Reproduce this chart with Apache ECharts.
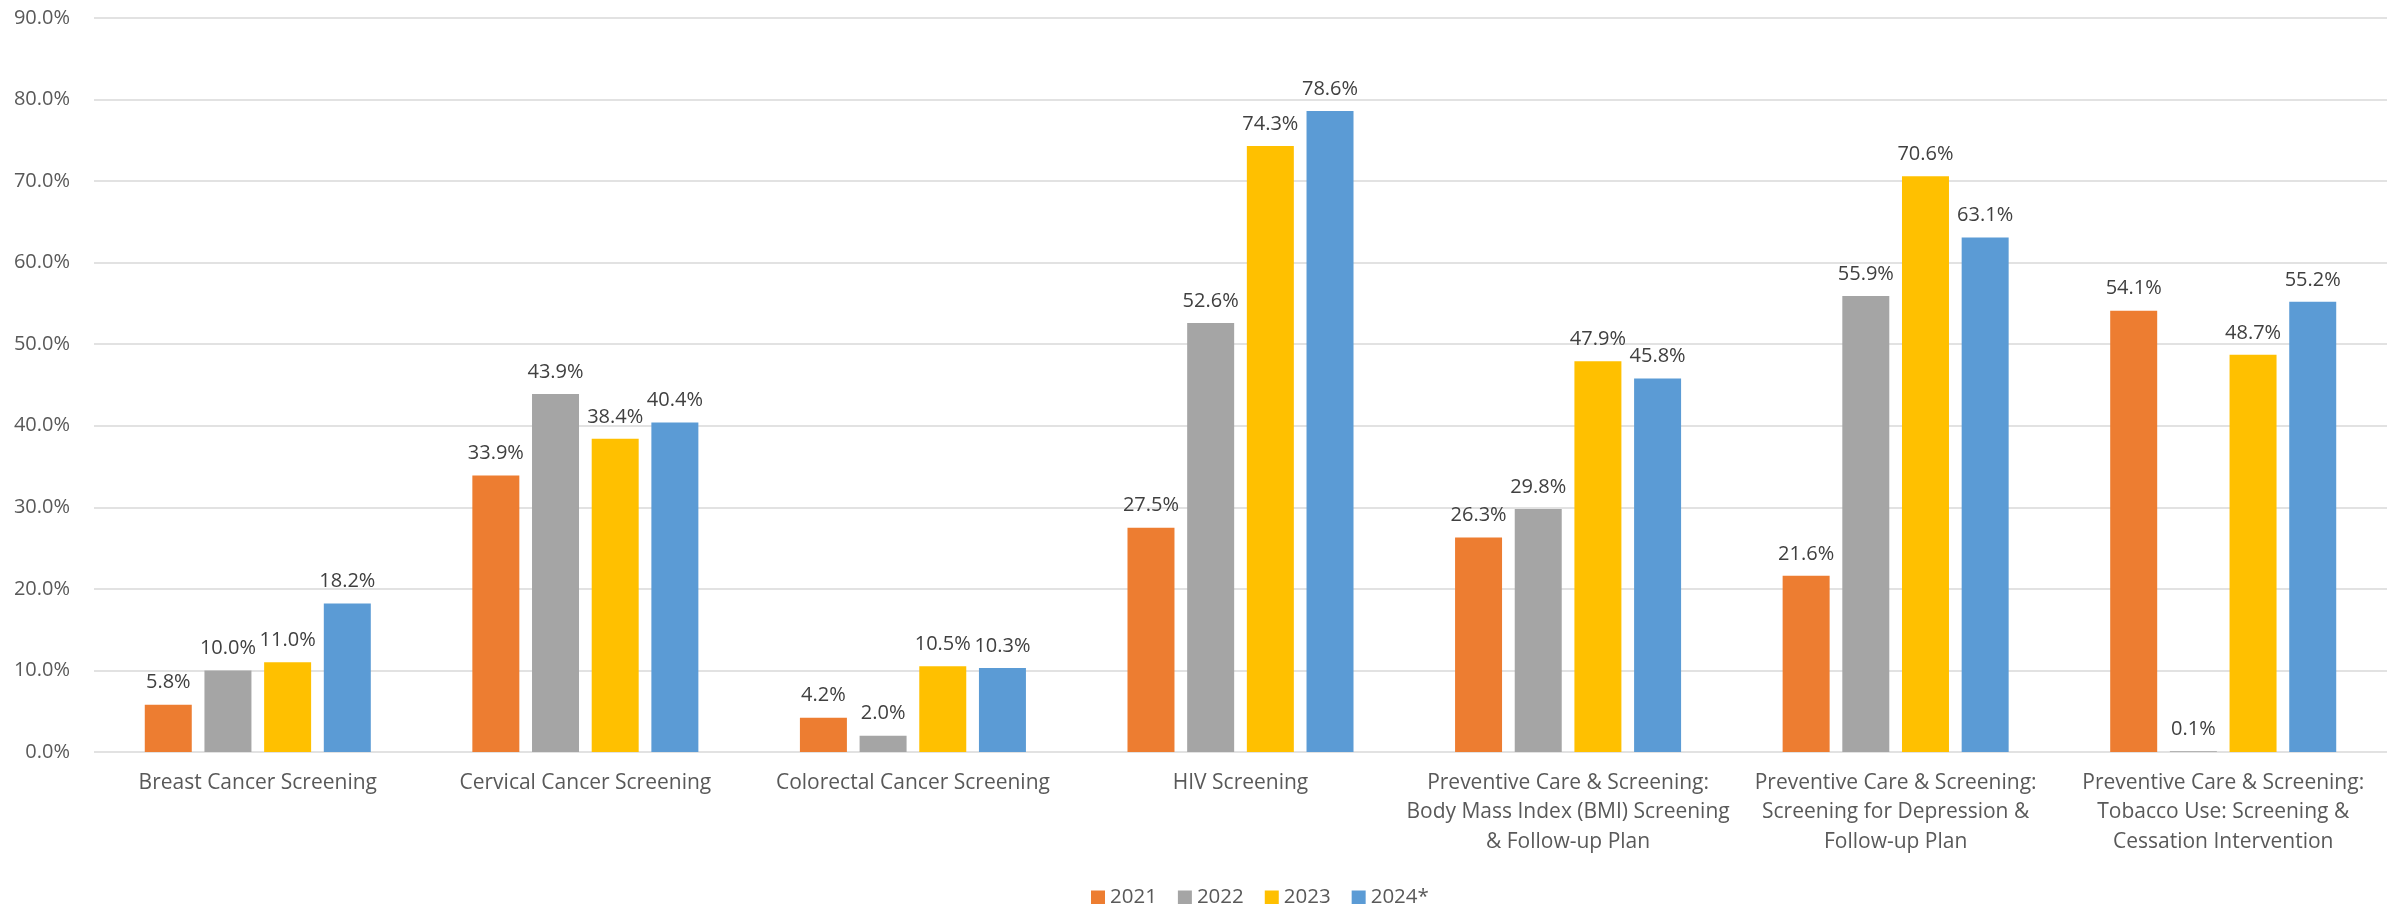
<!DOCTYPE html>
<html>
<head>
<meta charset="utf-8">
<script src="https://cdn.jsdelivr.net/npm/echarts@6/dist/echarts.min.js"></script>
<style>
  html, body { margin: 0; padding: 0; background: #fff; }
  #chart { width: 2405px; height: 904px; }
</style>
</head>
<body>
<div id="chart"></div>
<script>
const categories = [
  'Breast Cancer Screening',
  'Cervical Cancer Screening',
  'Colorectal Cancer Screening',
  'HIV Screening',
  'Preventive Care & Screening:\nBody Mass Index (BMI) Screening\n& Follow-up Plan',
  'Preventive Care & Screening:\nScreening for Depression &\nFollow-up Plan',
  'Preventive Care & Screening:\nTobacco Use: Screening &\nCessation Intervention'
];
const years = ['2021', '2022', '2023', '2024*'];
const v2021 = [5.8, 33.9, 4.2, 27.5, 26.3, 21.6, 54.1];
const v2022 = [10.0, 43.9, 2.0, 52.6, 29.8, 55.9, 0.1];
const v2023 = [11.0, 38.4, 10.5, 74.3, 47.9, 70.6, 48.7];
const v2024 = [18.2, 40.4, 10.3, 78.6, 45.8, 63.1, 55.2];
const colors = ['#ED7D31', '#A5A5A5', '#FFC000', '#5B9BD5'];

const font = 'Open Sans';
const chart = echarts.init(document.getElementById('chart'));

const makeSeries = (name, data) => ({
  name: name,
  type: 'bar',
  data: data,
  barGap: '27%',
  barCategoryGap: '31%',
  label: {
    show: true,
    position: 'top',
    distance: 12,
    fontFamily: font,
    fontSize: 20,
    color: '#404040',
    formatter: p => p.value.toFixed(1) + '%'
  }
});

chart.setOption({
  backgroundColor: '#ffffff',
  color: colors,
  animation: false,
  grid: { left: 94, right: 18, top: 18, bottom: 152 },
  legend: {
    top: 882,
    left: 1086,
    itemWidth: 14,
    itemHeight: 14,
    itemGap: 21,
    icon: 'rect',
    textStyle: { fontFamily: font, fontSize: 20.5, color: '#595959' },
    data: years
  },
  xAxis: {
    type: 'category',
    data: categories,
    axisLine: { show: false },
    axisTick: { show: false },
    axisLabel: {
      interval: 0,
      margin: 16,
      fontFamily: font,
      fontSize: 21,
      lineHeight: 29.5,
      color: '#595959',
      align: 'center'
    }
  },
  yAxis: {
    type: 'value',
    min: 0,
    max: 90,
    interval: 10,
    axisLine: { show: false },
    axisTick: { show: false },
    axisLabel: {
      margin: 24,
      fontFamily: font,
      fontSize: 20,
      color: '#595959',
      formatter: v => v.toFixed(1) + '%'
    },
    splitLine: { lineStyle: { color: '#D9D9D9', width: 1.5 } }
  },
  series: [
    makeSeries(years[0], v2021),
    makeSeries(years[1], v2022),
    makeSeries(years[2], v2023),
    makeSeries(years[3], v2024)
  ]
});
</script>
</body>
</html>
